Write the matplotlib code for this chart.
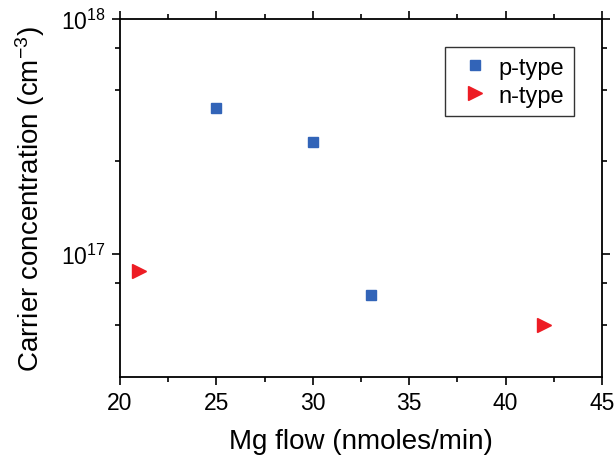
import matplotlib
matplotlib.use('Agg')
import matplotlib.pyplot as plt
import matplotlib.ticker as ticker
import numpy as np

plt.rcParams['font.family'] = ['Liberation Sans', 'DejaVu Sans']
plt.rcParams['mathtext.fontset'] = 'custom'
plt.rcParams['mathtext.rm'] = 'Liberation Sans'
plt.rcParams['mathtext.it'] = 'Liberation Sans:italic'

# data
p_flow = [25, 30, 33]
p_conc = [4.2e17, 3.0e17, 6.7e16]
n_flow = [21, 42]
n_conc = [8.5e16, 5.0e16]

fig = plt.figure(figsize=(6.16, 4.6), dpi=100)
ax = fig.add_axes([0.1948, 0.1783, 0.9773 - 0.1948, 0.9565 - 0.1783])

ax.plot(p_flow, p_conc, 's', color='#3264B8', markersize=7.7, label='p-type', linestyle='none')
ax.plot(n_flow, n_conc, '>', color='#ED1C24', markersize=9.5, label='n-type', linestyle='none')

ax.set_yscale('log')
ax.set_xlim(20, 45)
ax.set_ylim(3e16, 1e18)
ax.xaxis.set_major_locator(ticker.MultipleLocator(5))
ax.xaxis.set_minor_locator(ticker.MultipleLocator(2.5))
ax.yaxis.set_major_locator(ticker.LogLocator(base=10, numticks=10))
ax.yaxis.set_minor_locator(ticker.LogLocator(base=10, subs=[2.5, 5, 7.5], numticks=10))
ax.yaxis.set_minor_formatter(ticker.NullFormatter())

ax.tick_params(which='both', direction='out', top=True, right=True, width=1.2)
ax.tick_params(which='major', length=6, labelsize=16.5, pad=4)
ax.tick_params(which='minor', length=3.5)
for s in ax.spines.values():
    s.set_linewidth(1.3)

ax.set_xlabel('Mg flow (nmoles/min)', fontsize=20, labelpad=10)
ax.set_ylabel('Carrier concentration (cm$^{-3}$)', fontsize=20, labelpad=10)

leg = ax.legend(loc='upper right', bbox_to_anchor=(0.941, 0.921), fontsize=17, frameon=True,
                fancybox=False, edgecolor='black', handletextpad=0.15, borderpad=0.4,
                labelspacing=0.25, markerfirst=True, handlelength=1.7, borderaxespad=0)
leg.get_frame().set_linewidth(1.0)

fig.savefig('out.png', dpi=100)
